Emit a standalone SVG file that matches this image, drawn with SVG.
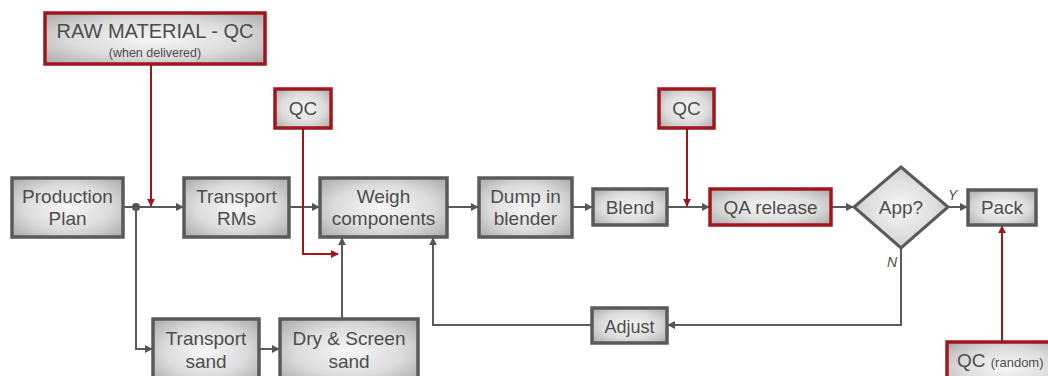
<svg xmlns="http://www.w3.org/2000/svg" width="1048" height="376" viewBox="0 0 1048 376">
<defs>
<radialGradient id="g" cx="50%" cy="50%" r="70%">
<stop offset="0" stop-color="#f7f7f7"/>
<stop offset="0.55" stop-color="#dcdcdc"/>
<stop offset="1" stop-color="#a9a9a9"/>
</radialGradient>
<marker id="ag" viewBox="0 0 10 10" refX="9" refY="5" markerWidth="8" markerHeight="8" orient="auto" markerUnits="userSpaceOnUse">
<path d="M0,0 L10,5 L0,10 z" fill="#555"/>
</marker>
<marker id="ar" viewBox="0 0 10 10" refX="9" refY="5" markerWidth="8" markerHeight="8" orient="auto" markerUnits="userSpaceOnUse">
<path d="M0,0 L10,5 L0,10 z" fill="#a0161c"/>
</marker>
</defs>
<style>
.b{fill:url(#g);stroke:#5a5a5a;stroke-width:3.5}
.r{fill:url(#g);stroke:#a0161c;stroke-width:3.5}
.t{font-family:"Liberation Sans",Arial,sans-serif;font-size:19px;fill:#4d4d4d;text-anchor:middle}
.s{font-family:"Liberation Sans",Arial,sans-serif;font-size:12.5px;fill:#4d4d4d;text-anchor:middle}
.l{fill:none;stroke:#5a5a5a;stroke-width:2}
.lr{fill:none;stroke:#a0161c;stroke-width:2}
.i{font-family:"Liberation Sans",Arial,sans-serif;font-size:14px;font-style:italic;fill:#4d4d4d}
</style>
<rect width="1048" height="376" fill="#fff"/>
<g id="connectors">
<line class="l" x1="123" y1="207" x2="183" y2="207" marker-end="url(#ag)"/>
<line class="l" x1="289" y1="207" x2="319" y2="207" marker-end="url(#ag)"/>
<line class="l" x1="447" y1="207" x2="478" y2="207" marker-end="url(#ag)"/>
<line class="l" x1="572" y1="207" x2="592" y2="207" marker-end="url(#ag)"/>
<line class="l" x1="667" y1="207" x2="709" y2="207" marker-end="url(#ag)"/>
<line class="l" x1="831" y1="207" x2="853" y2="207" marker-end="url(#ag)"/>
<line class="l" x1="948" y1="207" x2="967" y2="207" marker-end="url(#ag)"/>
<circle cx="136" cy="207" r="4" fill="#555"/>
<polyline class="l" points="136,207 136,349 152,349" marker-end="url(#ag)"/>
<line class="l" x1="259" y1="349" x2="279" y2="349" marker-end="url(#ag)"/>
<line class="l" x1="342" y1="319" x2="342" y2="238" marker-end="url(#ag)"/>
<polyline class="l" points="901,248 901,325 668,325" marker-end="url(#ag)"/>
<polyline class="l" points="592,325 433,325 433,238" marker-end="url(#ag)"/>
<line class="lr" x1="151" y1="64" x2="151" y2="206" marker-end="url(#ar)"/>
<polyline class="lr" points="303,128 303,254 338,254" marker-end="url(#ar)"/>
<line class="lr" x1="687" y1="128" x2="687" y2="206" marker-end="url(#ar)"/>
<line class="lr" x1="1002" y1="342" x2="1002" y2="226" marker-end="url(#ar)"/>
<text class="i" x="948" y="200">Y</text>
<text class="i" x="887" y="267">N</text>
</g>
<g id="raw-qc"><rect class="r" x="45" y="13" width="220" height="51"/><text class="t" x="155" y="38" style="font-size:20px">RAW MATERIAL - QC</text><text class="s" x="155" y="57">(when delivered)</text></g>
<g id="production-plan"><rect class="b" x="12" y="178" width="111" height="59"/><text class="t" x="67.5" y="203">Production</text><text class="t" x="67.5" y="225">Plan</text></g>
<g id="transport-rms"><rect class="b" x="184" y="178" width="105" height="59"/><text class="t" x="236.5" y="203">Transport</text><text class="t" x="236.5" y="225">RMs</text></g>
<g id="qc-weigh"><rect class="r" x="275" y="89" width="56" height="39"/><text class="t" x="303" y="115">QC</text></g>
<g id="weigh"><rect class="b" x="320" y="178" width="127" height="59"/><text class="t" x="383.5" y="203">Weigh</text><text class="t" x="383.5" y="225">components</text></g>
<g id="dump"><rect class="b" x="479" y="178" width="93" height="59"/><text class="t" x="525.5" y="203">Dump in</text><text class="t" x="525.5" y="225">blender</text></g>
<g id="blend"><rect class="b" x="593" y="189" width="74" height="36"/><text class="t" x="630" y="214">Blend</text></g>
<g id="qc-qa"><rect class="r" x="659" y="89" width="55" height="39"/><text class="t" x="686.5" y="115">QC</text></g>
<g id="qa-release"><rect class="r" x="710" y="189" width="121" height="36"/><text class="t" x="770.5" y="214">QA release</text></g>
<g id="app"><polygon class="b" points="901,167 948,207 901,248 854,207" style="stroke-width:3"/><text class="t" x="901" y="214">App?</text></g>
<g id="pack"><rect class="b" x="968" y="190" width="68" height="35"/><text class="t" x="1002" y="214">Pack</text></g>
<g id="adjust"><rect class="b" x="592" y="308" width="75" height="35"/><text class="t" x="629.5" y="333" style="font-size:18px">Adjust</text></g>
<g id="transport-sand"><rect class="b" x="153" y="319" width="106" height="65"/><text class="t" x="206" y="345">Transport</text><text class="t" x="206" y="368">sand</text></g>
<g id="dry-screen"><rect class="b" x="280" y="319" width="138" height="65"/><text class="t" x="349" y="345">Dry &amp; Screen</text><text class="t" x="349" y="368">sand</text></g>
<g id="qc-random"><rect class="r" x="947" y="342" width="120" height="50"/><text class="t" x="957" y="367" style="text-anchor:start">QC <tspan style="font-size:13px">(random)</tspan></text></g>
</svg>
